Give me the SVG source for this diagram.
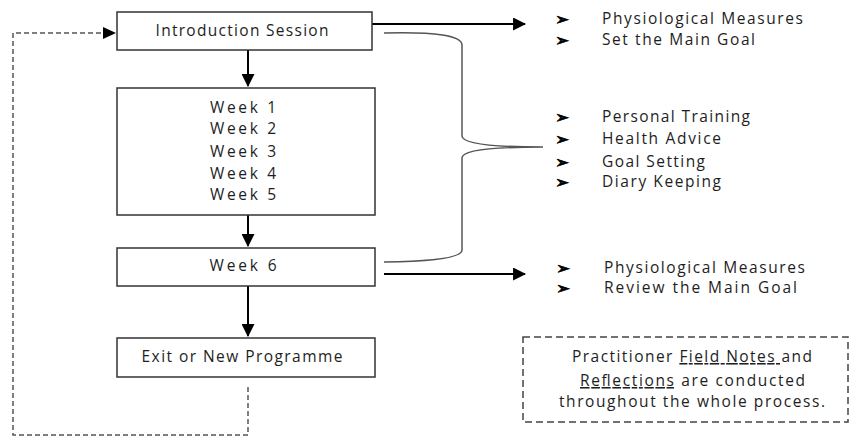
<svg xmlns="http://www.w3.org/2000/svg" width="856" height="437" viewBox="0 0 856 437">
<style>
.box{fill:#fff;stroke:#333;stroke-width:1.5}
.t{font-family:"Open Sans","Liberation Sans",Arial,sans-serif;font-size:15.5px;font-weight:500;fill:#1e1e1e}
.c{text-anchor:middle}
.b{font-family:"DejaVu Sans",sans-serif;font-size:17px;fill:#000;stroke:#000;stroke-width:0.6}
.ar{stroke:#000;stroke-width:2;fill:none}
.dash{stroke:#555;stroke-width:1.5;fill:none;stroke-dasharray:5,3}
</style>
<defs>
<marker id="ah" viewBox="0 0 12 12" refX="11" refY="6" markerWidth="13" markerHeight="13" markerUnits="userSpaceOnUse" orient="auto">
<path d="M0,0 L12,6 L0,12 z" fill="#000"/>
</marker>
</defs>
<g id="connectors">
<line class="ar" x1="248" y1="50" x2="248" y2="86" marker-end="url(#ah)"/>
<line class="ar" x1="248" y1="215" x2="248" y2="246" marker-end="url(#ah)"/>
<line class="ar" x1="248" y1="286" x2="248" y2="336" marker-end="url(#ah)"/>
<line class="ar" x1="372" y1="24" x2="525" y2="24" stroke-width="1.5" marker-end="url(#ah)"/>
<line class="ar" x1="384" y1="274" x2="525" y2="274" stroke-width="2.5" marker-end="url(#ah)"/>
<path class="dash" d="M248,387 L248,435 L13,435 L13,33 L104,33"/>
<path d="M103,27 L116,33 L103,39 z" fill="#000"/>
<path d="M384,33 Q462,31 462,45 L462,136 Q462,147 543,147 Q462,147 462,158 L462,250 Q462,261 384,262" fill="none" stroke="#555" stroke-width="1.5"/>
</g>
<g id="intro">
<rect class="box" x="117" y="12" width="255" height="38"/>
<text class="t c" x="242" y="36" textLength="173" lengthAdjust="spacing">Introduction Session</text>
</g>
<g id="weeks">
<rect class="box" x="117" y="88" width="258" height="127"/>
<text class="t c" x="243" y="113" textLength="66" lengthAdjust="spacing">Week 1</text>
<text class="t c" x="243" y="134" textLength="66" lengthAdjust="spacing">Week 2</text>
<text class="t c" x="243" y="157" textLength="66" lengthAdjust="spacing">Week 3</text>
<text class="t c" x="243" y="179" textLength="66" lengthAdjust="spacing">Week 4</text>
<text class="t c" x="243" y="200" textLength="66" lengthAdjust="spacing">Week 5</text>
</g>
<g id="week6">
<rect class="box" x="117" y="248" width="258" height="38"/>
<text class="t c" x="243" y="271" textLength="67" lengthAdjust="spacing">Week 6</text>
</g>
<g id="exit">
<rect class="box" x="117" y="338" width="258" height="39"/>
<text class="t c" x="242" y="362" textLength="201" lengthAdjust="spacing">Exit or New Programme</text>
</g>
<g id="list1">
<text class="b"><tspan x="555" y="25">➢</tspan><tspan x="555" y="46">➢</tspan></text>
<text class="t" x="602" y="24" textLength="201" lengthAdjust="spacing">Physiological Measures</text>
<text class="t" x="602" y="45" textLength="153" lengthAdjust="spacing">Set the Main Goal</text>
</g>
<g id="list2">
<text class="b"><tspan x="555" y="123">➢</tspan><tspan x="555" y="145">➢</tspan><tspan x="555" y="168">➢</tspan><tspan x="555" y="188">➢</tspan></text>
<text class="t" x="602" y="122" textLength="148" lengthAdjust="spacing">Personal Training</text>
<text class="t" x="602" y="144" textLength="119" lengthAdjust="spacing">Health Advice</text>
<text class="t" x="602" y="167" textLength="103" lengthAdjust="spacing">Goal Setting</text>
<text class="t" x="602" y="187" textLength="119" lengthAdjust="spacing">Diary Keeping</text>
</g>
<g id="list3">
<text class="b"><tspan x="556" y="274">➢</tspan><tspan x="556" y="294">➢</tspan></text>
<text class="t" x="604" y="273" textLength="201" lengthAdjust="spacing">Physiological Measures</text>
<text class="t" x="604" y="293" textLength="193" lengthAdjust="spacing">Review the Main Goal</text>
</g>
<g id="note">
<rect x="523" y="337" width="325" height="85" fill="#fff" stroke="#444" stroke-width="1.5" stroke-dasharray="7,4"/>
<text class="t" x="572" y="362" textLength="240" lengthAdjust="spacing">Practitioner <tspan text-decoration="underline">Field Notes </tspan>and</text>
<text class="t" x="580" y="386" textLength="225" lengthAdjust="spacing"><tspan text-decoration="underline">Reflections</tspan> are conducted</text>
<text class="t" x="559" y="407" textLength="266" lengthAdjust="spacing">throughout the whole process.</text>
</g>
</svg>
